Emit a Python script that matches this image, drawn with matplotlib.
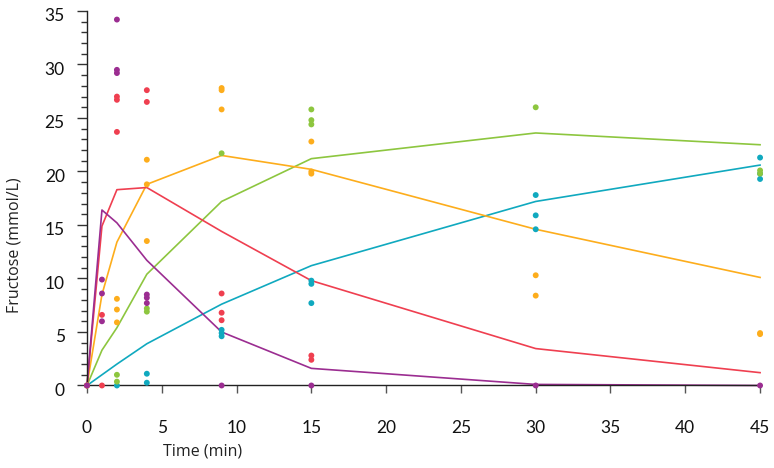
import matplotlib.pyplot as plt
from matplotlib.ticker import MultipleLocator
from matplotlib.transforms import ScaledTranslation

# sampling times (min) for the fitted curves
times = [0, 1, 2, 4, 9, 15, 30, 45]

# fitted fructose curves (mmol/L)
fit_purple = [0, 16.4, 15.2, 11.7, 5.0, 1.6, 0.1, 0.0]
fit_red = [0, 14.9, 18.3, 18.5, 14.4, 9.8, 3.45, 1.2]
fit_orange = [0, 8.5, 13.4, 18.8, 21.5, 20.2, 14.6, 10.1]
fit_green = [0, 3.3, 5.4, 10.4, 17.2, 21.2, 23.6, 22.5]
fit_teal = [0, 1.0, 2.0, 3.9, 7.6, 11.2, 17.2, 20.6]

# measured points
obs_purple_t = [0, 1, 1, 1, 2, 2, 2, 4, 4, 4, 9, 15, 30, 45]
obs_purple_y = [0, 9.9, 8.6, 6.0, 34.2, 29.5, 29.2, 8.5, 8.2, 7.7, 0, 0, 0, 0]
obs_red_t = [0, 1, 1, 2, 2, 2, 4, 4, 9, 9, 9, 15, 15]
obs_red_y = [0, 6.6, 0, 27.0, 26.7, 23.7, 27.6, 26.5, 8.6, 6.8, 6.1, 2.8, 2.4]
obs_orange_t = [0, 2, 2, 2, 4, 4, 4, 9, 9, 9, 15, 15, 15, 30, 30, 45, 45]
obs_orange_y = [0, 8.1, 7.1, 5.9, 21.1, 18.8, 13.5, 27.8, 27.6, 25.8,
                22.8, 20.0, 19.8, 10.3, 8.4, 4.9, 4.8]
obs_green_t = [0, 2, 2, 4, 4, 9, 15, 15, 15, 30, 45, 45]
obs_green_y = [0, 1.0, 0.36, 7.2, 6.9, 21.7, 25.8, 24.8, 24.4, 26.0, 20.1, 19.8]
obs_teal_t = [0, 2, 4, 4, 9, 9, 9, 15, 15, 15, 30, 30, 30, 45, 45, 45]
obs_teal_y = [0, 0, 1.1, 0.26, 5.2, 4.9, 4.6, 9.8, 9.5, 7.7,
              17.8, 15.9, 14.6, 21.3, 19.8, 19.3]

c_purple = '#9b2d91'
c_red = '#ef3f50'
c_orange = '#fdad1c'
c_green = '#8dc63f'
c_teal = '#10a9bf'

fig = plt.figure(figsize=(7.74, 4.68), dpi=100)
ax = fig.add_axes([0.1124, 0.1763, 0.8696, 0.8002])

fits = [(fit_teal, c_teal), (fit_green, c_green), (fit_orange, c_orange),
        (fit_red, c_red), (fit_purple, c_purple)]
for vals, col in fits:
    ax.plot(times, vals, color=col, lw=1.2, zorder=2, clip_on=False)

obs = [(obs_teal_t, obs_teal_y, c_teal), (obs_green_t, obs_green_y, c_green),
       (obs_orange_t, obs_orange_y, c_orange), (obs_red_t, obs_red_y, c_red),
       (obs_purple_t, obs_purple_y, c_purple)]
for t, y, col in obs:
    ax.scatter(t, y, s=18, color=col, edgecolors='none', zorder=3, clip_on=False)

ax.set_xlim(0, 45)
ax.set_ylim(0, 35)
for side in ['top', 'right']:
    ax.spines[side].set_visible(False)
for side in ['left', 'bottom']:
    ax.spines[side].set_linewidth(1.0)
    ax.spines[side].set_color('#222222')

ax.xaxis.set_major_locator(MultipleLocator(5))
ax.yaxis.set_major_locator(MultipleLocator(5))
ax.yaxis.set_minor_locator(MultipleLocator(1))
ax.tick_params(axis='x', which='major', length=6, width=1.0, color='#555555',
               pad=19, labelsize=12.5)
ax.tick_params(axis='y', which='major', length=7, width=1.0, color='#333333',
               pad=9, labelsize=12.5)
ax.tick_params(axis='y', which='minor', length=4.5, width=1.0, color='#333333')

# nudge the y tick labels a little below their ticks
shift = ScaledTranslation(0, -4 / 100, fig.dpi_scale_trans)
for lab in ax.get_yticklabels():
    lab.set_family('Lato')
    lab.set_color('#111111')
    lab.set_transform(lab.get_transform() + shift)
for lab in ax.get_xticklabels():
    lab.set_family('Lato')
    lab.set_color('#111111')

fig.text(0.019, 1 - 245 / 468, 'Fructose (mmol/L)', rotation=90,
         ha='center', va='center', fontsize=11.5, family='Open Sans',
         color='#222222')
fig.text(163 / 774, 1 - 452 / 468, 'Time (min)', ha='left', va='center',
         fontsize=11.5, family='Open Sans', color='#222222')

fig.savefig('out.png', dpi=100)
